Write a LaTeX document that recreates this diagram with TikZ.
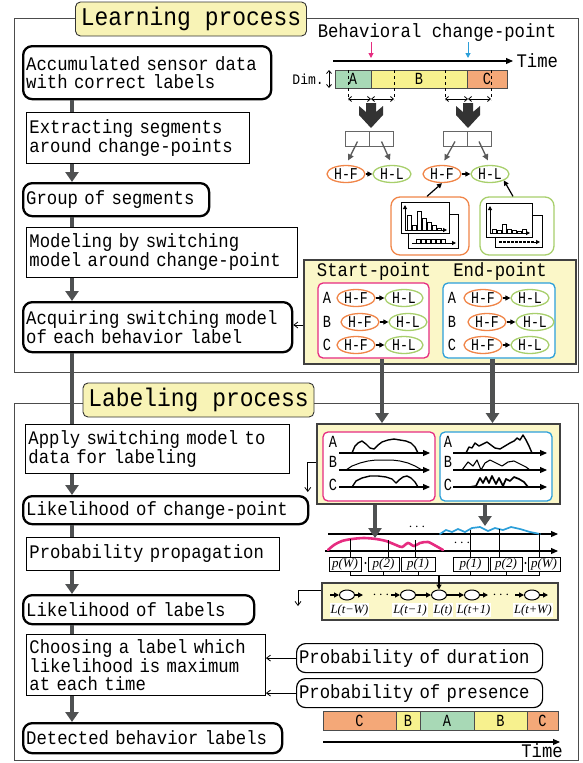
\documentclass[tikz,border=0pt]{standalone}
\usepackage{fontspec}
\setmonofont{Liberation Mono}
\newfontfamily\stepmono[FakeStretch=0.9]{Liberation Mono}
\newfontfamily\narrowmono[FakeStretch=0.8]{Liberation Mono}
\newfontfamily\varfont{Liberation Serif}
\usetikzlibrary{arrows.meta,positioning,shapes.geometric}

\definecolor{paneyellow}{HTML}{FBF7C8}
\definecolor{titleyellow}{HTML}{F8F3B6}
\definecolor{flowgray}{HTML}{4F5152}
\definecolor{hfcolor}{HTML}{F08548}
\definecolor{hlcolor}{HTML}{A8CF6C}
\definecolor{startcolor}{HTML}{E62C80}
\definecolor{endcolor}{HTML}{2C9FD9}
\definecolor{segA}{HTML}{A8D9B6}
\definecolor{segB}{HTML}{F7F18E}
\definecolor{segC}{HTML}{F4A878}

\begin{document}
\begin{tikzpicture}[x=1pt,y=-1pt]
\tikzset{
  stepbox/.style={draw=black,line width=0.9pt,fill=white,anchor=north west,align=left,inner xsep=3pt,inner ysep=2pt,font=\stepmono\fontsize{19.2}{17.5}\selectfont},
  resultbox/.style={stepbox,line width=2.3pt,rounded corners=9pt},
  sourcebox/.style={stepbox,line width=1.2pt,rounded corners=9pt,inner xsep=2.5pt},
  titlebox/.style={draw=black!80,line width=0.9pt,fill=titleyellow,rounded corners=5pt,inner sep=0pt,minimum width=231pt,minimum height=34pt,font=\stepmono\fontsize{25.5}{26}\selectfont},
  processframe/.style={draw=black!70,line width=0.9pt},
  panel/.style={draw=black!75,line width=1.8pt,fill=paneyellow,inner sep=0pt},
  groupbox/.style={line width=1.3pt,fill=white,rounded corners=5pt,inner sep=0pt},
  plaintext/.style={inner sep=0pt,font=\stepmono\fontsize{19.2}{17.5}\selectfont},
  rowlabel/.style={inner sep=0pt,font=\narrowmono\fontsize{17}{17}\selectfont},
  hfnode/.style={ellipse,draw=hfcolor,line width=1.3pt,minimum width=38pt,minimum height=17pt,inner sep=0pt,font=\narrowmono\fontsize{16.5}{16.5}\selectfont},
  hlnode/.style={hfnode,draw=hlcolor},
  segbox/.style={draw=black!70,line width=0.8pt,minimum height=18pt,inner sep=0pt,font=\narrowmono\fontsize{17}{17}\selectfont},
  splitbox/.style={draw=black!60,line width=1pt,fill=white,minimum width=24pt,minimum height=15pt,inner sep=0pt},
  pbox/.style={draw=black,line width=0.8pt,fill=white,minimum height=14pt,inner sep=0pt,font=\varfont\itshape\fontsize{13}{13}\selectfont},
  lnode/.style={ellipse,draw=black,line width=1pt,fill=white,minimum width=15pt,minimum height=10pt,inner sep=0pt},
  llabel/.style={fill=white,inner sep=1pt,font=\varfont\itshape\fontsize{12.5}{12.5}\selectfont},
  gapdots/.style={inner sep=0pt,font=\Large},
  flowline/.style={draw=flowgray,line width=4.5pt},
  flowarrow/.style={flowline,-{Triangle[length=10pt,width=13pt]}},
  grayarrow/.style={draw=black!65,line width=1.3pt,-{Triangle[length=6pt,width=6pt]}},
  linkarrow/.style={draw=black,line width=1.2pt,-{Triangle[length=5pt,width=5pt]}},
  thinarrow/.style={draw=black,line width=0.8pt,-{Straight Barb[length=4pt,width=6pt]}},
  axisarrow/.style={draw=black,line width=1.1pt,-{Triangle[length=7pt,width=6pt]}},
  span/.style={line width=0.8pt,{Straight Barb[length=3pt,width=5pt]}-{Straight Barb[length=3pt,width=5pt]}},
  signal/.style={draw=black,line width=1.4pt,line join=round}
}
\useasboundingbox (0,0) rectangle (583,763);

% frames of the two stages
\draw[processframe] (14,18) rectangle (578,372);
\draw[processframe] (14,403) rectangle (578,760);

% flow of the learning stage
\node[resultbox,text width=242pt,minimum height=53pt] (accum) at (22,45) {Accumulated sensor data\\with correct labels};
\node[stepbox,text width=217pt,minimum height=51pt] (extract) at (26,112) {Extracting segments\\around change-points};
\node[resultbox,text width=180pt,minimum height=33pt] (group) at (22,182) {Group of segments};
\node[stepbox,text width=265pt,minimum height=50pt] (model) at (26,227) {Modeling by switching\\model around change-point};
\node[resultbox,text width=263pt,minimum height=50pt] (acquire) at (22,301) {Acquiring switching model\\of each behavior label};

% flow of the labeling stage
\node[stepbox,text width=258pt,minimum height=49pt] (apply) at (25,424) {Apply switching model to\\data for labeling};
\node[resultbox,text width=279pt,minimum height=28pt] (likeCP) at (22,495) {Likelihood of change-point};
\node[stepbox,text width=247pt,minimum height=33pt] (propag) at (26,537) {Probability propagation};
\node[resultbox,text width=225pt,minimum height=29pt] (likeLab) at (22,594) {Likelihood of labels};
\node[stepbox,text width=233pt,minimum height=61pt] (choose) at (26,634) {Choosing a label which\\likelihood is maximum\\at each time};
\node[resultbox,text width=253pt,minimum height=30pt] (detected) at (22,722) {Detected behavior labels};

\coordinate (flowx) at (72,0);
\draw[flowline] (accum.south -| flowx) -- (extract.north -| flowx);
\draw[flowarrow] (extract.south -| flowx) -- (group.north -| flowx);
\draw[flowline] (group.south -| flowx) -- (model.north -| flowx);
\draw[flowarrow] (model.south -| flowx) -- (acquire.north -| flowx);
\draw[flowline] (acquire.south -| flowx) -- (apply.north -| flowx);
\draw[flowarrow] (apply.south -| flowx) -- (likeCP.north -| flowx);
\draw[flowline] (likeCP.south -| flowx) -- (propag.north -| flowx);
\draw[flowarrow] (propag.south -| flowx) -- (likeLab.north -| flowx);
\draw[flowline] (likeLab.south -| flowx) -- (choose.north -| flowx);
\draw[flowarrow] (choose.south -| flowx) -- (detected.north -| flowx);

\node[titlebox] (learnTitle) at (191,19) {Learning process};
\node[titlebox] (labelTitle) at (198.5,400) {Labeling process};

% change-points on the training sequence
\node[plaintext] (cpTitle) at (437,33) {Behavioral change-point};
\coordinate (cpAB) at (371,61);
\coordinate (cpBC) at (468,61);
\draw[startcolor,line width=1pt,-{Triangle[length=5pt,width=5pt]}] ([yshift=19pt]cpAB) -- ([yshift=3pt]cpAB);
\draw[endcolor,line width=1pt,-{Triangle[length=5pt,width=5pt]}] ([yshift=19pt]cpBC) -- ([yshift=3pt]cpBC);
\draw[axisarrow] (333,61) -- (513,61) node[plaintext,anchor=west,xshift=3pt] (timeTop) {Time};
\node[segbox,fill=segA,minimum width=36pt] (barA) at (353,79) {A};
\node[segbox,fill=segB,minimum width=96pt] (barB) at (419,79) {B};
\node[segbox,fill=segC,minimum width=40pt] (barC) at (487,79) {C};
\node[plaintext,font=\stepmono\fontsize{14.5}{14.5}\selectfont,anchor=east] (dimLabel) at (324,79) {Dim.};
\draw[span] (329,70) -- (329,88);
\foreach \x in {348,394,445,491}
  \draw[dashed,line width=0.7pt] (\x,70) -- (\x,100);
\draw[span] (348,99) -- (371,99);
\draw[span] (371,99) -- (394,99);
\draw[span] (445,99) -- (468,99);
\draw[span] (468,99) -- (491,99);
\fill[black!80] (366,103) -- (376,103) -- (376,112) -- (383,106) -- (383,115) -- (371,128) -- (359,115) -- (359,106) -- (366,112) -- cycle;
\fill[black!80] (463,103) -- (473,103) -- (473,112) -- (480,106) -- (480,115) -- (468,128) -- (456,115) -- (456,106) -- (463,112) -- cycle;

% segments split around each change-point
\node[splitbox] (splitLa) at (357.5,138.5) {};
\node[splitbox] (splitLb) at (381.5,138.5) {};
\node[splitbox] (splitRa) at (455,138.5) {};
\node[splitbox] (splitRb) at (479,138.5) {};
\node[hfnode] (hfL) at (346,174) {H-F};
\node[hlnode] (hlL) at (392,174) {H-L};
\node[hfnode] (hfR) at (442,174) {H-F};
\node[hlnode] (hlR) at (490,174) {H-L};
\draw[grayarrow,shorten >=5pt] ([yshift=-3pt]splitLa.center) -- (hfL.north);
\draw[grayarrow,shorten >=5pt] ([yshift=-3pt]splitLb.center) -- (hlL.north);
\draw[grayarrow,shorten >=5pt] ([yshift=-3pt]splitRa.center) -- (hfR.north);
\draw[grayarrow,shorten >=5pt] ([yshift=-3pt]splitRb.center) -- (hlR.north);
\draw[linkarrow] (hfL.east) -- (hlL.west);
\draw[linkarrow] (hfR.east) -- (hlR.west);

% output distributions of both states
\node[groupbox,draw=hfcolor,rounded corners=9pt,minimum width=78pt,minimum height=58pt] (histF) at (430,226) {};
\node[groupbox,draw=hlcolor,rounded corners=9pt,minimum width=74pt,minimum height=58pt] (histL) at (517,226) {};
\draw[line width=0.9pt,fill=white] (408,214) rectangle (458,248);
\draw[line width=1pt,-{Triangle[length=4pt,width=4pt]}] (412,243) -- (456,243);
\foreach \x in {416,421,426,431,436,441}
  \draw[line width=0.7pt] (\x,239) rectangle (\x+4,243);
\draw[line width=0.9pt,fill=white] (401,202) rectangle (449,233);
\draw[line width=1pt,-{Triangle[length=4pt,width=4pt]}] (405,230) -- (405,205);
\draw[line width=1pt,-{Triangle[length=4pt,width=4pt]}] (405,230) -- (447,230);
\foreach \x/\h in {409/15,414/5,419/19,424/12,429/8,434/5,439/2}
  \draw[line width=0.8pt] (\x-2,230) rectangle (\x+2,230-\h);
\draw[line width=0.9pt,fill=white] (495,215) rectangle (542,247);
\draw[line width=1.6pt,dash pattern=on 3pt off 1pt] (499,242) -- (534,242);
\draw[line width=1pt,-{Triangle[length=4pt,width=4pt]}] (534,242) -- (540,242);
\draw[line width=0.9pt,fill=white] (486,203) rectangle (532,237);
\draw[line width=1pt,-{Triangle[length=4pt,width=4pt]}] (490,233) -- (490,206);
\draw[line width=1pt,-{Triangle[length=4pt,width=4pt]}] (490,233) -- (530,233);
\foreach \x/\h in {494/4,499/3,504/9,509/4,514/3,519/2,524/4}
  \draw[line width=0.8pt] (\x-2,233) rectangle (\x+2,233-\h);
\draw[linkarrow] ([xshift=-3pt]histF.north) -- (hfR.south);
\draw[linkarrow] ([xshift=-4pt]histL.north) -- (hlR.south east);

% learned switching models
\node[panel,minimum width=272pt,minimum height=104pt] (modelBox) at (440,312) {};
\node[plaintext] (startTitle) at (374,272) {Start-point};
\node[plaintext] (endTitle) at (500,272) {End-point};
\node[groupbox,draw=startcolor,minimum width=111pt,minimum height=75pt] (startBox) at (373.5,320.5) {};
\node[groupbox,draw=endcolor,minimum width=112pt,minimum height=75pt] (endBox) at (499,320.5) {};
\node[rowlabel] (stA) at (327,298) {A};
\node[rowlabel] (stB) at (327,322) {B};
\node[rowlabel] (stC) at (327,345) {C};
\node[hfnode] (stAf) at (356,298) {H-F};
\node[hlnode] (stAl) at (404,298) {H-L};
\node[hfnode] (stBf) at (360,322) {H-F};
\node[hlnode] (stBl) at (408,322) {H-L};
\node[hfnode] (stCf) at (356,345) {H-F};
\node[hlnode] (stCl) at (404,345) {H-L};
\node[rowlabel] (enA) at (452,298) {A};
\node[rowlabel] (enB) at (452,322) {B};
\node[rowlabel] (enC) at (452,345) {C};
\node[hfnode] (enAf) at (483,298) {H-F};
\node[hlnode] (enAl) at (530,298) {H-L};
\node[hfnode] (enBf) at (487,322) {H-F};
\node[hlnode] (enBl) at (535,322) {H-L};
\node[hfnode] (enCf) at (483,345) {H-F};
\node[hlnode] (enCl) at (530,345) {H-L};
\draw[linkarrow] (stAf.east) -- (stAl.west);
\draw[linkarrow] (stBf.east) -- (stBl.west);
\draw[linkarrow] (stCf.east) -- (stCl.west);
\draw[linkarrow] (enAf.east) -- (enAl.west);
\draw[linkarrow] (enBf.east) -- (enBl.west);
\draw[linkarrow] (enCf.east) -- (enCl.west);
\draw[thinarrow] ([yshift=-13pt]modelBox.west) -- ([yshift=-13pt]modelBox.west -| acquire.east);

% models applied to the unlabeled data
\node[panel,minimum width=243pt,minimum height=80pt] (sigBox) at (438.5,464) {};
\node[groupbox,draw=startcolor,minimum width=112pt,minimum height=69pt] (sigStart) at (379,466.5) {};
\node[groupbox,draw=endcolor,minimum width=112pt,minimum height=69pt] (sigEnd) at (496,466.5) {};
\draw[flowarrow] ([xshift=8.5pt]startBox.south) -- ([xshift=8.5pt]startBox.south |- sigBox.north);
\draw[flowarrow] ([xshift=-6.5pt]endBox.south) -- ([xshift=-6.5pt]endBox.south |- sigBox.north);
\node[rowlabel] (sgA) at (333,442) {A};
\node[rowlabel] (sgB) at (333,462) {B};
\node[rowlabel] (sgC) at (333,485) {C};
\node[rowlabel] (seA) at (448,442) {A};
\node[rowlabel] (seB) at (448,462) {B};
\node[rowlabel] (seC) at (448,485) {C};
\draw[axisarrow] (339,453) -- (430,453);
\draw[axisarrow] (339,470) -- (430,470);
\draw[axisarrow] (339,487) -- (430,487);
\draw[axisarrow] (453,453) -- (547,453);
\draw[axisarrow] (453,470) -- (547,470);
\draw[axisarrow] (453,487) -- (547,487);
\draw[signal] plot coordinates {(352,453) (355,446) (358,443) (362,441) (366,444) (370,448) (374,449) (378,445) (382,442) (388,440) (394,439) (400,440) (406,441) (411,443) (415,447) (418,453)};
\draw[signal,line width=1pt] plot coordinates {(346,470) (352,466) (360,463) (368,461) (376,460) (384,460) (392,460) (400,461) (408,463) (415,466) (422,470)};
\draw[signal] plot coordinates {(352,487) (356,481) (362,478) (370,476) (378,476) (386,477) (392,479) (396,483) (399,480) (403,477) (407,476) (411,478) (415,482) (418,487)};
\draw[signal] plot coordinates {(466,453) (469,447) (472,448) (475,443) (479,446) (483,444) (487,442) (491,445) (495,448) (500,449) (505,446) (510,443) (514,441) (517,438) (520,440) (523,435) (526,440) (529,446) (532,453)};
\draw[signal,line width=1.1pt] plot coordinates {(462,470) (468,462) (473,466) (477,460) (481,470) (485,463) (490,460) (496,463) (502,466) (508,462) (514,461) (520,464) (526,467) (530,470)};
\draw[signal,line width=1.7pt] plot coordinates {(470,487) (476,486) (480,478) (483,483) (486,477) (489,483) (492,476) (496,484) (499,478) (503,486) (506,479) (510,481) (514,477) (519,479) (524,482) (528,487)};
\draw[thinarrow] (sigBox.west |- sgB) -| ([xshift=-1.5pt,yshift=3pt]likeCP.north east);

% change-point likelihood along time
\coordinate (magPeak) at (375,538);
\coordinate (cyanPeak) at (485,526);
\draw[axisarrow] (328,534) -- (558,534);
\draw[axisarrow] (325,551) -- (558,551);
\draw[startcolor,line width=2.6pt,line cap=round] plot[smooth] coordinates {(328,550) (334,545) (342,541) (352,539) (364,538) (376,539) (386,541) (396,545) (402,547) (408,543) (414,546) (420,543) (428,542) (436,546) (443,550)};
\draw[endcolor,line width=1.7pt,line cap=round] plot coordinates {(440,534) (446,530) (452,532) (458,529) (465,532) (472,528) (480,527) (488,531) (495,528) (503,530) (511,527) (520,529) (530,532) (540,534)};
\draw[flowarrow] (sigBox.south -| magPeak) -- (magPeak);
\draw[flowarrow] (sigBox.south -| cyanPeak) -- (cyanPeak);
\node[gapdots] (gapUpper) at (417,527) {$\cdots$};
\node[gapdots] (gapLower) at (462,543) {$\cdots$};
\node[pbox,minimum width=32pt] (pWl) at (345,564) {p(W)};
\node[pbox,minimum width=31pt] (p2l) at (383.5,564) {p(2)};
\node[pbox,minimum width=34pt] (p1l) at (418,564) {p(1)};
\node[pbox,minimum width=35pt] (p1r) at (470.5,564) {p(1)};
\node[pbox,minimum width=32pt] (p2r) at (506,564) {p(2)};
\node[pbox,minimum width=32pt] (pWr) at (544,564) {p(W)};
\fill (365.5,563) circle (1.1pt);
\fill (525.5,563) circle (1.1pt);
\draw[line width=0.8pt] ([xshift=5pt]pWl.north) -- ([xshift=5pt]pWl.north |- 0,539);
\draw[line width=0.8pt] ([xshift=4.5pt]p2l.north) -- ([xshift=4.5pt]p2l.north |- 0,540);
\draw[line width=0.8pt] ([xshift=-3pt]p1l.north) -- ([xshift=-3pt]p1l.north |- 0,540);
\draw[line width=0.8pt] (p1r.north) -- (p1r.north |- 0,530);
\draw[line width=0.8pt] ([xshift=-7pt]p2r.north) -- ([xshift=-7pt]p2r.north |- 0,529);
\draw[line width=0.8pt] ([xshift=-5pt]pWr.north) -- ([xshift=-5pt]pWr.north |- 0,533);
\draw[line width=0.8pt] ([xshift=5pt]pWl.south) -- ([xshift=5pt]pWl.south |- 0,575) -- ([xshift=-5pt]pWr.south |- 0,575) -- ([xshift=-5pt]pWr.south);
\draw[line width=0.8pt] (p2l.south) -- (p2l.south |- 0,575);
\draw[line width=0.8pt] (p1l.south) -- (p1l.south |- 0,575);
\draw[line width=0.8pt] (p1r.south) -- (p1r.south |- 0,575);
\draw[line width=0.8pt] (p2r.south) -- (p2r.south |- 0,575);

% label likelihood chain
\node[panel,line width=1.5pt,minimum width=236pt,minimum height=37pt] (lStrip) at (440,601.5) {};
\node[lnode] (lTW) at (347,595) {};
\node[lnode] (lTm) at (408,595) {};
\node[lnode] (lT) at (439,595) {};
\node[lnode] (lTp) at (472,595) {};
\node[lnode] (lTWp) at (532,595) {};
\draw[linkarrow] (lT.north |- 0,575) -- (lT.north);
\draw[linkarrow] ([xshift=-9pt]lTW.west) -- (lTW.west);
\draw[linkarrow] (lTW.east) -- ([xshift=8pt]lTW.east);
\draw[linkarrow] ([xshift=-9pt]lTm.west) -- (lTm.west);
\draw[linkarrow] (lTm.east) -- (lT.west);
\draw[linkarrow] (lT.east) -- (lTp.west);
\draw[linkarrow] (lTp.east) -- ([xshift=8pt]lTp.east);
\draw[linkarrow] ([xshift=-9pt]lTWp.west) -- (lTWp.west);
\draw[linkarrow] (lTWp.east) -- ([xshift=8pt]lTWp.east);
\node[gapdots] (gapLeft) at (381,595) {$\cdots$};
\node[gapdots] (gapRight) at (501,595) {$\cdots$};
\node[llabel] (labTW) at (349.5,610) {L(t−W)};
\node[llabel] (labTm) at (410,610) {L(t−1)};
\node[llabel] (labT) at (443,610) {L(t)};
\node[llabel] (labTp) at (473.5,610) {L(t+1)};
\node[llabel] (labTWp) at (533,610) {L(t+W)};
\coordinate (lDrop) at (298,606);
\draw[thinarrow] ([yshift=11pt]lStrip.west) -| (lDrop);

% prior knowledge for the final decision
\node[sourcebox,text width=241pt,minimum height=29pt] (duration) at (296,643) {Probability of duration};
\node[sourcebox,text width=241pt,minimum height=29pt] (presence) at (296,678) {Probability of presence};
\draw[thinarrow] (duration.west) -- (duration.west -| choose.east);
\draw[thinarrow] (presence.west) -- (presence.west -| choose.east);

% resulting label sequence
\node[segbox,fill=segC,minimum width=73pt,minimum height=19pt] (outC1) at (359.5,720.5) {C};
\node[segbox,fill=segB,minimum width=24pt,minimum height=19pt] (outB1) at (408,720.5) {B};
\node[segbox,fill=segA,minimum width=54pt,minimum height=19pt] (outA) at (447,720.5) {A};
\node[segbox,fill=segB,minimum width=53pt,minimum height=19pt] (outB2) at (500.5,720.5) {B};
\node[segbox,fill=segC,minimum width=31pt,minimum height=19pt] (outC2) at (542.5,720.5) {C};
\draw[axisarrow] (323,742) -- (560,742);
\node[plaintext] (timeBottom) at (542,751) {Time};
\end{tikzpicture}
\end{document}
